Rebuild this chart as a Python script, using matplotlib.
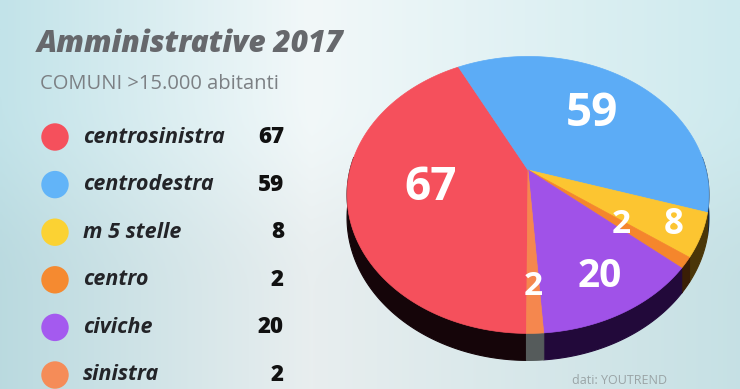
import numpy as np
import matplotlib.pyplot as plt
from matplotlib.patches import Polygon

labels = ['centrosinistra', 'centrodestra', 'm 5 stelle', 'centro', 'civiche', 'sinistra']
values = [67, 59, 8, 2, 20, 2]
colors = ['#f5505c', '#5cacf6', '#fcc531', '#f5862c', '#a052e8', '#f5874e']
wall_colors = ['#150509', '#15233a', '#4a3608', '#3a1e06', '#22093a', '#555b5b']
legend_colors = ['#f5505c', '#62b4f8', '#fbd233', '#f58a30', '#a45aef', '#f58c58']
label_radius = [0.55, 0.6, 0.85, 0.62, 0.78, 0.75]
label_size = [33, 33, 25, 24, 28, 24]

title = 'Amministrative 2017'
subtitle = 'COMUNI >15.000 abitanti'
source = 'dati: YOUTREND'

W, H = 740, 389
cx, cy = 528, 170
a, b, k = 178, 134, 0.18
depth = 27
start = -90.4


def project(u, v, r=1.0):
    u = np.asarray(u) * r
    v = np.asarray(v) * r
    s = 1.0 / (1 + k * v)
    return cx + a * u * s, cy - b * v * s


def wall_offset(v):
    return depth * (1 - k) / (1 + k * np.asarray(v))


fig = plt.figure(figsize=(W / 100, H / 100), dpi=100)
ax = fig.add_axes([0, 0, 1, 1])
ax.set_xlim(0, W)
ax.set_ylim(H, 0)
ax.axis('off')

# background gradient
xs = np.linspace(0, 1, 300)
left = np.array([194, 227, 233]) / 255
mid = np.array([242, 248, 249]) / 255
right = np.array([206, 234, 238]) / 255
t = np.clip(xs / 0.42, 0, 1)[:, None]
t2 = np.clip((xs - 0.42) / 0.58, 0, 1)[:, None]
grad = np.where(xs[:, None] < 0.42, left * (1 - t) + mid * t, mid * (1 - t2) + right * t2)
ys = np.linspace(0, 1, 2)[:, None, None]
img = grad[None, :, :] * (1 - 0.04 * ys)
ax.imshow(img, extent=[0, W, H, 0], aspect='auto', zorder=0)

total = sum(values)
spans = [v / total * 360 for v in values]
bounds = [start]
for sp in spans:
    bounds.append(bounds[-1] - sp)

# outer walls
for i in range(len(values)):
    th = np.radians(np.linspace(bounds[i], bounds[i + 1], 200))
    u, v = np.cos(th), np.sin(th)
    keep = v < 0.1
    if not keep.any():
        continue
    x, y = project(u[keep], v[keep])
    yb = y + wall_offset(v[keep])
    pts = list(zip(x, y)) + list(zip(x[::-1], yb[::-1]))
    ax.add_patch(Polygon(pts, closed=True, facecolor=wall_colors[i],
                         edgecolor=wall_colors[i], lw=0.8, zorder=2))

# top faces
for i in range(len(values)):
    th = np.radians(np.linspace(bounds[i], bounds[i + 1], 200))
    x, y = project(np.cos(th), np.sin(th))
    pts = [(cx, cy)] + list(zip(x, y))
    ax.add_patch(Polygon(pts, closed=True, facecolor=colors[i], edgecolor=colors[i],
                         lw=0.5, zorder=3))

# slice labels
for i in range(len(values)):
    m = np.radians((bounds[i] + bounds[i + 1]) / 2)
    lx, ly = project(np.cos(m), np.sin(m), label_radius[i])
    ax.text(lx, ly, str(values[i]), color='white', fontsize=label_size[i],
            fontweight='bold', family='Open Sans', ha='center', va='center', zorder=5)

# titles
ax.text(37, 44, title, fontsize=21.5, fontweight='heavy', style='italic', color='#66686c',
        family='Open Sans', ha='left', va='center')
ax.text(40, 84, subtitle, fontsize=14.5, color='#7c8084', family='Open Sans',
        ha='left', va='center')

# legend
ly0, dy = 137, 47.6
for i, lab in enumerate(labels):
    yy = ly0 + i * dy
    ax.scatter([55], [yy], s=390, color=legend_colors[i], edgecolors='none', zorder=4)
    ax.text(83, yy, lab, fontsize=15.5, fontweight='bold', style='italic', color='#232428',
            family='Open Sans', ha='left', va='center')
    ax.text(284, yy, str(values[i]), fontsize=16, fontweight='heavy', color='#111111',
            family='Open Sans', ha='right', va='center')

ax.text(620, 380, source, fontsize=9, color='#9aa4a6', family='Open Sans',
        ha='center', va='center')

fig.savefig('out.png', dpi=100)
